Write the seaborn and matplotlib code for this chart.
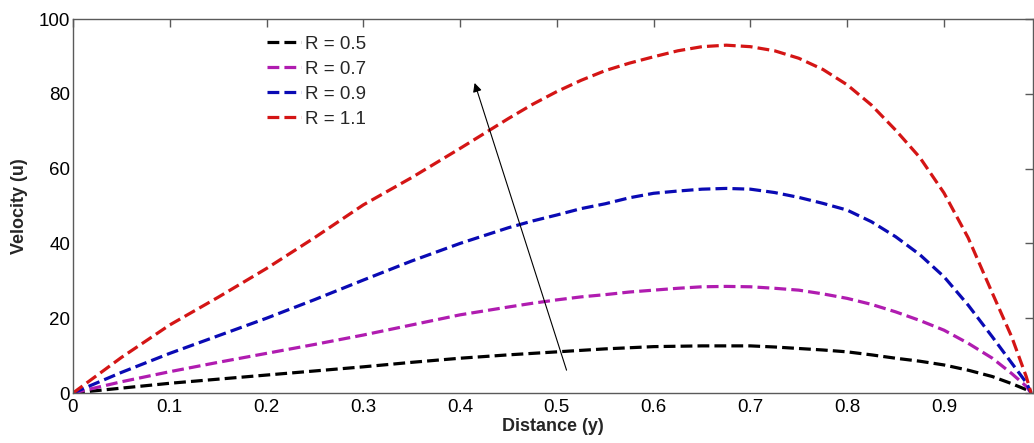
import matplotlib
matplotlib.use("Agg")
import matplotlib.pyplot as plt
import seaborn as sns
import pandas as pd

sns.set_theme(style="white", context="notebook")
plt.rcParams['font.family'] = ['Liberation Sans', 'DejaVu Sans']

# Distance (y) values
distance = [0, 0.05, 0.1, 0.15, 0.2, 0.25, 0.3, 0.35, 0.4, 0.45, 0.475, 0.5,
            0.525, 0.55, 0.575, 0.6, 0.625, 0.65, 0.675, 0.7, 0.725, 0.75,
            0.775, 0.8, 0.825, 0.85, 0.875, 0.9, 0.925, 0.95, 0.97, 0.985, 0.99]

# Velocity (u) for each R
vel_r05 = [0, 1.3, 2.6, 3.7, 4.8, 5.9, 7.0, 8.2, 9.3, 10.2, 10.6, 11.0,
           11.4, 11.8, 12.1, 12.4, 12.5, 12.6, 12.6, 12.6, 12.3, 11.9,
           11.5, 11.0, 10.2, 9.3, 8.5, 7.5, 6.1, 4.4, 2.5, 0.9, 0]
vel_r07 = [0, 3.0, 5.7, 8.2, 10.6, 13.0, 15.5, 18.2, 20.9, 23.0, 24.0, 24.9,
           25.7, 26.3, 27.0, 27.5, 28.0, 28.4, 28.5, 28.4, 28.0, 27.5,
           26.5, 25.3, 23.7, 21.7, 19.4, 16.8, 13.3, 9.3, 5.2, 1.8, 0]
vel_r09 = [0, 5.5, 10.6, 15.3, 20.0, 25.0, 30.2, 35.3, 40.0, 44.2, 46.0, 47.6,
           49.3, 50.6, 52.2, 53.4, 54.0, 54.5, 54.7, 54.5, 53.6, 52.3,
           50.7, 48.9, 45.8, 41.8, 37.0, 31.1, 23.5, 15.0, 8.0, 2.8, 0]
vel_r11 = [0, 9.5, 18.2, 25.6, 33.3, 41.6, 50.3, 57.6, 65.4, 73.4, 77.2, 80.6,
           83.6, 86.2, 88.2, 89.9, 91.5, 92.6, 93.0, 92.6, 91.5, 89.5,
           86.5, 82.4, 77.0, 70.3, 63.0, 53.5, 41.5, 26.7, 15.0, 4.4, 0]

r_labels = ['R = 0.5', 'R = 0.7', 'R = 0.9', 'R = 1.1']
r_colors = ['#000000', '#b01cb0', '#0a0ab4', '#d41515']

x_ticks = [0, 0.1, 0.2, 0.3, 0.4, 0.5, 0.6, 0.7, 0.8, 0.9]
x_tick_labels = ['0', '0.1', '0.2', '0.3', '0.4', '0.5', '0.6', '0.7', '0.8', '0.9']
y_ticks = [0, 20, 40, 60, 80, 100]

# arrow showing increasing R (tail, head)
arrow_tail = (0.51, 6.1)
arrow_head = (0.415, 82.9)

series = [vel_r05, vel_r07, vel_r09, vel_r11]

fig = plt.figure(figsize=(10.34, 4.43), dpi=100)
ax = fig.add_axes([73 / 1034, 1 - 393 / 443, 960 / 1034, 374 / 443])

for vals, lab, col in zip(series, r_labels, r_colors):
    df = pd.DataFrame({'y': distance, 'u': vals})
    sns.lineplot(data=df, x='y', y='u', ax=ax, color=col, linestyle='--',
                 linewidth=2.3, label=lab, sort=False)

ax.annotate('', xy=arrow_head, xytext=arrow_tail,
            arrowprops=dict(arrowstyle='-|>', color='black', lw=0.8,
                            mutation_scale=13, shrinkA=0, shrinkB=0))

ax.set_xlim(0, 0.992)
ax.set_ylim(0, 100)
ax.set_xticks(x_ticks)
ax.set_xticklabels(x_tick_labels)
ax.set_yticks(y_ticks)

for sp in ax.spines.values():
    sp.set_color('#5a5a5a')
    sp.set_linewidth(1.0)
ax.tick_params(direction='in', length=5.5, width=1.0, color='#5a5a5a',
               top=True, right=True, labelsize=13.5, labelcolor='black')
ax.tick_params(axis='x', pad=4)
ax.tick_params(axis='y', pad=2)

ax.set_xlabel('Distance (y)', fontsize=13, fontweight='bold')
ax.set_ylabel('Velocity (u)', fontsize=13, fontweight='bold')
ax.xaxis.set_label_coords(0.5, -0.068)
ax.yaxis.set_label_coords(-0.047, 0.5)

ax.legend(loc='upper left', bbox_to_anchor=(0.202, 0.955), frameon=False,
          fontsize=13.5, handlelength=1.8, handletextpad=0.25, labelspacing=0.42,
          borderpad=0, borderaxespad=0)
ax.grid(False)

fig.savefig('out.png', dpi=100)
